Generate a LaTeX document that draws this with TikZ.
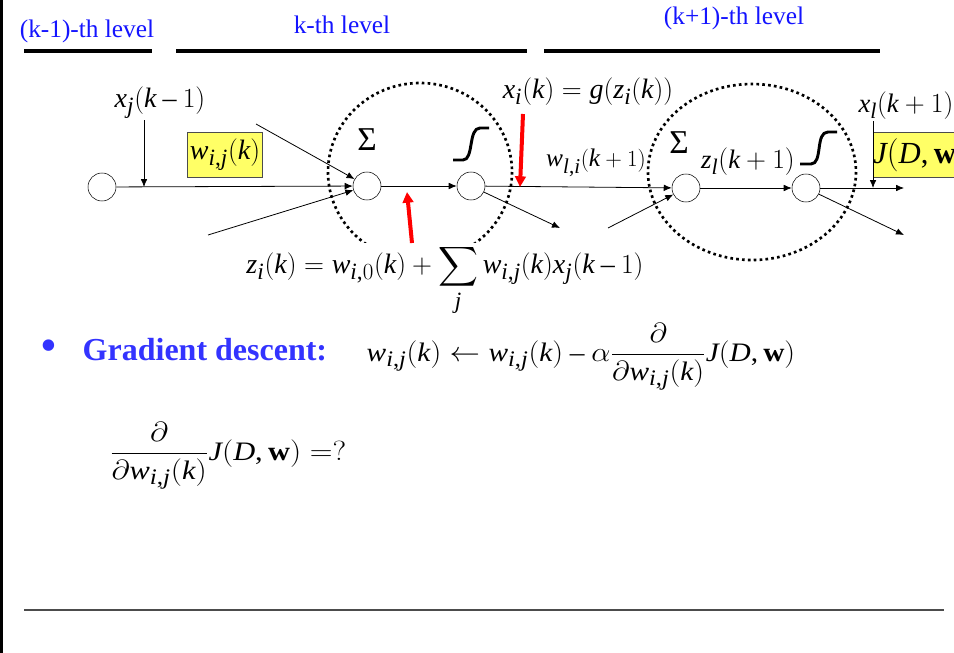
\documentclass[tikz,border=0pt]{standalone}
\usepackage{amsmath}
\usepackage{fontspec}
\setmainfont{Liberation Serif}
\usepackage[italic]{mathastext}
\usepackage{xcolor}
\usetikzlibrary{arrows.meta,positioning}

\definecolor{boxyellow}{RGB}{255,255,102}
\definecolor{levelblue}{RGB}{20,20,255}
\definecolor{titleblue}{RGB}{51,51,255}

\begin{document}
\begin{tikzpicture}[
    x=0.75pt,y=-0.75pt,
    unit/.style={circle,draw,minimum size=21pt,inner sep=0pt},
    arrow/.style={-{Latex[length=6pt,width=5pt]},semithick},
    redarrow/.style={-{Triangle[length=8pt,width=8pt]},line width=3pt,red},
    level/.style={text=levelblue,font=\fontsize{19}{22}\selectfont},
    bar/.style={line width=3pt},
    weight/.style={draw=black!70,fill=boxyellow,inner sep=2pt,minimum height=34pt,
        font=\fontsize{21}{24}\selectfont},
    lab/.style={font=\fontsize{21}{24}\selectfont,inner sep=1pt},
    halo/.style={line width=2pt,dash pattern=on 2pt off 2.4pt},
    sig/.style={line width=2.2pt}
]
\useasboundingbox (0,0) rectangle (954,653);
\clip (0,0) rectangle (954,653);
\fill (0,0) rectangle (2.5,653);

% levels
\node[level] (lvl0) at (87,31) {(k-1)-th level};
\node[level] (lvl1) at (342,25) {k-th level};
\node[level] (lvl2) at (734,18) {(k+1)-th level};
\draw[bar] (24,51) -- (152,51);
\draw[bar] (176,51) -- (527,51);
\draw[bar] (544,51) -- (880,51);

% units
\node[unit] (in) at (102,187) {};
\node[unit] (sum1) at (367,186) {};
\node[unit] (act1) at (471,186) {};
\node[unit] (sum2) at (686,188) {};
\node[unit] (act2) at (806,188) {};

\draw[halo] (420,172) ellipse [x radius=92, y radius=89];
\draw[halo] (752,172) ellipse [x radius=104, y radius=88];

\node[font=\fontsize{25}{28}\selectfont] (sig1) at (367,140) {Σ};
\node[font=\fontsize{25}{28}\selectfont] (sig2) at (679,143) {Σ};
\draw[sig] (453,160) -- (463,160) .. controls (474,160) and (468,128) .. (480,128) -- (489,128);
\draw[sig] (800,164) -- (811,164) .. controls (823,164) and (815,132) .. (828,132) -- (837,132);

% free ends
\coordinate (a1) at (256,124);
\coordinate (a2) at (208,235);
\coordinate (b1) at (560,228);
\coordinate (b2) at (608,228);
\coordinate (c1) at (904,188);
\coordinate (c2) at (904,235);
\coordinate (xjin) at (144,187);
\coordinate (xlin) at (873,188);

\draw[arrow] (in) -- (sum1);
\draw[arrow] (a1) -- (sum1);
\draw[arrow] (a2) -- (sum1);
\draw[arrow] (sum1) -- (act1);
\draw[arrow] (act1) -- (sum2);
\draw[arrow] (act1) -- (b1);
\draw[arrow] (b2) -- (sum2);
\draw[arrow] (sum2) -- (act2);
\draw[arrow] (act2) -- (c1);
\draw[arrow] (act2) -- (c2);

% labels
\node[lab] (xj) at (160,103) {$x_j(k-1)$};
\draw[arrow] (xj.south -| xjin) -- (xjin);
\node[weight] (wij) at (225,155) {$w_{i,j}(k)$};
\node[lab] (xi) at (588,92) {$x_i(k)=g(z_i(k))$};
\node[lab,font=\fontsize{19}{22}\selectfont] (wli) at (596,163) {$w_{l,i}(k+1)$};
\node[lab,font=\fontsize{20}{22}\selectfont] (zl) at (748,162) {$z_l(k+1)$};
\node[lab,font=\fontsize{20}{24}\selectfont] (xl) at (906,106) {$x_l(k+1)$};
\node[weight,anchor=west,inner xsep=0pt,text width=90pt,align=left,
    font=\fontsize{23}{26}\selectfont] (jdw) at (873,155) {$J(D,\mathbf{w})$};
\draw[arrow] (xl.south -| xlin) -- (xlin);

\node[lab,fill=white,anchor=north,inner sep=1pt] (zi) at (445,243)
    {$z_i(k)=w_{i,0}(k)+\displaystyle\sum\limits_j w_{i,j}(k)x_j(k-1)$};

\coordinate (zitail) at (412,243);
\coordinate (zitip) at (407,192);
\coordinate (xitail) at (523,114);
\coordinate (xitip) at (520,187);
\draw[redarrow] (zitail) -- (zitip);
\draw[redarrow] (xitail) -- (xitip);

% gradient descent
\node[text=titleblue,font=\fontsize{36}{40}\selectfont] (dot) at (49,351) {\textbullet};
\node[text=titleblue,font=\bfseries\fontsize{24}{28}\selectfont,anchor=west] (gd) at (78,350) {Gradient descent:};
\node[lab,font=\fontsize{20}{24}\selectfont] (upd) at (581,357)
    {\scalebox{1.1}[1]{$w_{i,j}(k)\leftarrow w_{i,j}(k)-\alpha\dfrac{\partial}{\partial w_{i,j}(k)}J(D,\mathbf{w})$}};
\node[lab,font=\fontsize{20}{24}\selectfont] (grad) at (228,456)
    {\scalebox{1.14}[1]{$\dfrac{\partial}{\partial w_{i,j}(k)}J(D,\mathbf{w})=?$}};

\draw[black!70,line width=1pt] (24,610) -- (944,610);
\end{tikzpicture}
\end{document}
